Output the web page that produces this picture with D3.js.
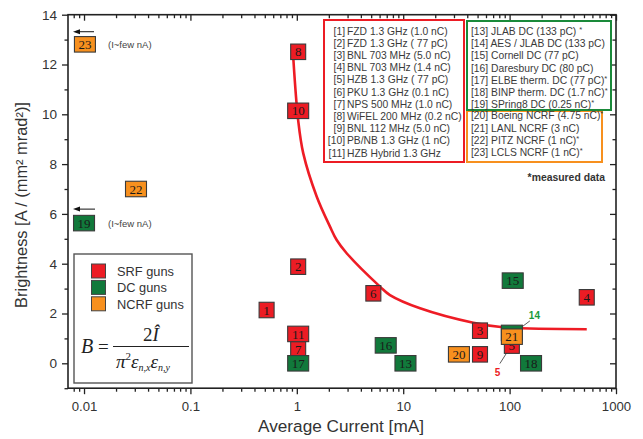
<!DOCTYPE html>
<html><head><meta charset="utf-8">
<script src="https://cdn.jsdelivr.net/npm/d3@7"></script>
<style>body{margin:0;background:#fff}svg{display:block}</style>
</head><body>
<svg id="c" width="643" height="439"></svg>
<script>
// ---- data ----
const gunIds     = [1,2,3,4,5,6,7,8,9,10,11,13,14,15,16,17,18,19,20,21,22,23];
const gunTypes   = ["SRF","SRF","SRF","SRF","SRF","SRF","SRF","SRF","SRF","SRF","SRF",
                    "DC","DC","DC","DC","DC","DC","DC","NCRF","NCRF","NCRF","NCRF"];
const currents   = [0.52,1.03,52.7,531,105,5.24,1.03,1.03,52.7,1.03,1.03,
                    10.5,105,107,6.85,1.03,159,0.01,33.4,105,0.0308,0.0102];
const brightness = [2.14,3.88,1.31,2.65,0.71,2.81,0.56,12.51,0.36,10.14,1.18,
                    0,1.22,3.32,0.72,0,0,5.63,0.36,1.07,7.0,12.81];
const curveCurrent    = [0.927,1.03,1.15,1.54,2.05,2.37,2.94,6.05,7.51,14.4,45.6,86.7,531];
const curveBrightness = [12.25,9.76,8.43,6.69,5.49,4.95,4.42,3.08,2.74,2.21,1.63,1.45,1.37];
const srfRefs  = ["FZD 1.3 GHz (1.0 nC)","FZD 1.3 GHz ( 77 pC)","BNL 703 MHz (5.0 nC)","BNL 703 MHz (1.4 nC)",
                  "HZB 1.3 GHz ( 77 pC)","PKU 1.3 GHz (0.1 nC)","NPS 500 MHz (1.0 nC)","WiFEL 200 MHz (0.2 nC)",
                  "BNL 112 MHz (5.0 nC)","PB/NB 1.3 GHz (1 nC)","HZB Hybrid 1.3 GHz"];
const srfRefIds = [1,2,3,4,5,6,7,8,9,10,11];
const dcRefs   = ["JLAB DC (133 pC) *","AES / JLAB DC (133 pC)","Cornell DC (77 pC)","Daresbury DC (80 pC)",
                  "ELBE therm. DC (77 pC)*","BINP therm. DC (1.7 nC)*","SPring8 DC (0.25 nC)*"];
const dcRefIds = [13,14,15,16,17,18,19];
const ncrfRefs = ["Boeing NCRF (4.75 nC)*","LANL NCRF (3 nC)","PITZ NCRF (1 nC)*","LCLS NCRF (1 nC)*"];
const ncrfRefIds = [20,21,22,23];
const legendLabels = ["SRF guns","DC guns","NCRF guns"];
const legendTypes  = ["SRF","DC","NCRF"];
const xMajorTicks = [0.01,0.1,1,10,100,1000];
const xTickLabels = ["0.01","0.1","1","10","100","1000"];
const yMajorTicks = [0,2,4,6,8,10,12,14];
const yMinorTicks = [-1,1,3,5,7,9,11,13];

// ---- layout ----
const L=68, R=616, T=14.7, B=388.2;
const colors = {SRF:"#ec1c24", DC:"#11793b", NCRF:"#f7901e"};
const svg = d3.select("#c");
const x = d3.scaleLog().domain([0.00707,1000]).range([L,R]);
const y = d3.scaleLinear().domain([-1,14]).range([B,T]);
const sans = "'Liberation Sans', Arial, sans-serif";
const serif = "'Liberation Serif', 'Times New Roman', serif";

const xMinor = [];
[0.001,0.01,0.1,1,10,100].forEach(d=>{for(let k=2;k<=9;k++){const v=d*k; if(v>=0.00707 && v<=1000) xMinor.push(v);}});

function styleAxis(fs){return g=>{g.select(".domain").remove(); g.selectAll("line").attr("stroke","#222").attr("stroke-width",1.3);
  g.selectAll("text").attr("font-family",sans).attr("font-size",fs).attr("fill","#333");};}

svg.append("g").attr("transform",`translate(0,${B})`).call(d3.axisBottom(x).tickValues(xMajorTicks).tickFormat((d,i)=>xTickLabels[i]).tickSize(6).tickPadding(7)).call(styleAxis(13.2));
svg.append("g").attr("transform",`translate(0,${B})`).call(d3.axisBottom(x).tickValues(xMinor).tickFormat("").tickSize(3.5)).call(styleAxis(13));
svg.append("g").attr("transform",`translate(0,${T})`).call(d3.axisTop(x).tickValues(xMajorTicks).tickFormat("").tickSize(-6)).call(styleAxis(13));
svg.append("g").attr("transform",`translate(0,${T})`).call(d3.axisTop(x).tickValues(xMinor).tickFormat("").tickSize(-3.5)).call(styleAxis(13));
svg.append("g").attr("transform",`translate(${L},0)`).call(d3.axisLeft(y).tickValues(yMajorTicks).tickSize(6).tickPadding(5)).call(styleAxis(13.6));
svg.append("g").attr("transform",`translate(${L},0)`).call(d3.axisLeft(y).tickValues(yMinorTicks).tickFormat("").tickSize(3.5)).call(styleAxis(13));
svg.append("g").attr("transform",`translate(${R},0)`).call(d3.axisRight(y).tickValues(yMajorTicks).tickFormat("").tickSize(-6)).call(styleAxis(13));
svg.append("g").attr("transform",`translate(${R},0)`).call(d3.axisRight(y).tickValues(yMinorTicks).tickFormat("").tickSize(-3.5)).call(styleAxis(13));
svg.append("rect").attr("x",L).attr("y",T).attr("width",R-L).attr("height",B-T).attr("fill","none").attr("stroke","#222").attr("stroke-width",1.6);

// axis titles
svg.append("text").attr("x",341).attr("y",432).attr("text-anchor","middle").attr("font-family",sans).attr("font-size",17.2).attr("fill","#333").text("Average Current [mA]");
svg.append("text").attr("transform",`translate(27,205) rotate(-90)`).attr("text-anchor","middle").attr("font-family",sans).attr("font-size",16.4).attr("fill","#333").text("Brightness [A / (mm² mrad²)]");

const refFs = 10.3;
// red reference box (brackets right aligned)
(function(){
  const x0=324,y0=20,x1=464,y1=162;
  svg.append("rect").attr("x",x0).attr("y",y0).attr("width",x1-x0).attr("height",y1-y0).attr("fill","#fff").attr("stroke",colors.SRF).attr("stroke-width",2);
  srfRefIds.forEach((id,i)=>{
    const yy=y0+14.6+i*12.2;
    svg.append("text").attr("x",345).attr("y",yy).attr("text-anchor","end").attr("font-family",sans).attr("font-size",refFs).attr("fill","#3a3a3a").text(`[${id}]`);
    svg.append("text").attr("x",347).attr("y",yy).attr("font-family",sans).attr("font-size",refFs).attr("fill","#3a3a3a").text(srfRefs[i]);
  });
})();
function leftBox(x0,y0,x1,y1,col,ids,labels,dy0){
  svg.append("rect").attr("x",x0).attr("y",y0).attr("width",x1-x0).attr("height",y1-y0).attr("fill","#fff").attr("stroke",col).attr("stroke-width",2);
  ids.forEach((id,i)=>{
    const parts = labels[i].split("*");
    const t = svg.append("text").attr("x",x0+4).attr("y",y0+dy0+i*12.2).attr("font-family",sans).attr("font-size",refFs).attr("fill","#3a3a3a");
    t.append("tspan").text(`[${id}] ${parts[0]}`);
    if(parts.length>1) t.append("tspan").attr("font-size",7.5).attr("dy",-3).text("*");
  });
}
leftBox(467,111,602,162,colors.NCRF,ncrfRefIds,ncrfRefs,8.3);
leftBox(467,21,611,110,"#1a8a3a",dcRefIds,dcRefs,14);
svg.append("text").attr("x",605).attr("y",181).attr("text-anchor","end").attr("font-family",sans).attr("font-size",10.4).attr("font-weight","bold").attr("fill","#333").text("*measured data");

// fit curve
const line = d3.line().x((d,i)=>x(curveCurrent[i])).y((d,i)=>y(curveBrightness[i])).curve(d3.curveCatmullRom);
svg.append("path").datum(curveCurrent).attr("d",line).attr("fill","none").attr("stroke","#ee1c25").attr("stroke-width",2.6);

// leader lines and small labels for 5 and 14
svg.append("line").attr("x1",x(105)-5).attr("y1",y(0.71)+7).attr("x2",x(105)-12).attr("y2",y(0.71)+18).attr("stroke","#333").attr("stroke-width",0.8);
svg.append("text").attr("x",x(105)-17).attr("y",y(0.71)+30).attr("font-family",sans).attr("font-size",10).attr("font-weight","bold").attr("fill","#ec1c24").text("5");
svg.append("line").attr("x1",x(105)+10).attr("y1",y(1.22)-6).attr("x2",x(105)+18).attr("y2",y(1.22)-12).attr("stroke","#333").attr("stroke-width",0.8);
svg.append("text").attr("x",x(105)+17).attr("y",y(1.22)-14).attr("font-family",sans).attr("font-size",10).attr("font-weight","bold").attr("fill","#1a9a3a").text("14");

// markers (box of [14] is fully hidden behind [21], so its number is not drawn)
const mk = svg.append("g");
gunIds.forEach((id,i)=>{
  const cx=x(currents[i]), cy=y(brightness[i]);
  const w = id>9?21:15, h=15.5;
  mk.append("rect").attr("x",cx-w/2).attr("y",cy-h/2).attr("width",w).attr("height",h)
    .attr("fill",colors[gunTypes[i]]).attr("stroke","#3a3a3a").attr("stroke-width",1.1);
  if(id!==14) mk.append("text").attr("x",cx).attr("y",cy+4.6).attr("text-anchor","middle").attr("font-family",serif).attr("font-size",13).attr("fill","#1a1a1a").text(id);
});

// arrows and notes for few nA
function arrow(xa,xb,yy){
  svg.append("line").attr("x1",xb).attr("y1",yy).attr("x2",xa+5).attr("y2",yy).attr("stroke","#111").attr("stroke-width",1);
  svg.append("path").attr("d",`M${xa},${yy} L${xa+7},${yy-2.5} L${xa+7},${yy+2.5} Z`).attr("fill","#111");
}
arrow(73,94,y(brightness[gunIds.indexOf(23)])-12.6);
arrow(73,95,y(brightness[gunIds.indexOf(19)])-14);
[23,19].forEach(id=>{
  const i=gunIds.indexOf(id);
  svg.append("text").attr("x",108).attr("y",y(brightness[i])+3.5).attr("font-family",sans).attr("font-size",9.5).attr("fill","#444").text("(I~few nA)");
});

// legend box
const lg = svg.append("g");
lg.append("rect").attr("x",74).attr("y",254).attr("width",118).attr("height",129).attr("fill","#fff").attr("stroke","#555").attr("stroke-width",1.4);
legendTypes.forEach((t,i)=>{
  const cy=271+i*16.4;
  lg.append("rect").attr("x",91.5).attr("y",cy-7).attr("width",14).attr("height",14).attr("fill",colors[t]).attr("stroke","#444").attr("stroke-width",1);
  lg.append("text").attr("x",117).attr("y",cy+5).attr("font-family",sans).attr("font-size",12.8).attr("fill","#333").text(legendLabels[i]);
});
// formula
lg.append("text").attr("x",81).attr("y",353).attr("font-family",serif).attr("font-size",20).attr("font-style","italic").attr("fill","#222").text("B");
lg.append("text").attr("x",98).attr("y",353).attr("font-family",serif).attr("font-size",19).attr("fill","#222").text("=");
lg.append("line").attr("x1",113).attr("x2",189).attr("y1",346.5).attr("y2",346.5).attr("stroke","#222").attr("stroke-width",1);
const num = lg.append("text").attr("x",151).attr("y",341).attr("text-anchor","middle").attr("font-family",serif).attr("font-size",19).attr("fill","#222");
num.append("tspan").text("2");
num.append("tspan").attr("font-style","italic").text("Î");
const den = lg.append("text").attr("x",116).attr("y",368).attr("font-family",serif).attr("font-size",19).attr("fill","#222");
den.append("tspan").attr("font-style","italic").text("π");
den.append("tspan").attr("font-size",11).attr("dy",-8).text("2");
den.append("tspan").attr("font-style","italic").attr("dy",8).text("ε");
den.append("tspan").attr("font-style","italic").attr("font-size",10).attr("dy",3).text("n,x");
den.append("tspan").attr("font-style","italic").attr("dy",-3).text("ε");
den.append("tspan").attr("font-style","italic").attr("font-size",10).attr("dy",3).text("n,y");
</script>
</body></html>
